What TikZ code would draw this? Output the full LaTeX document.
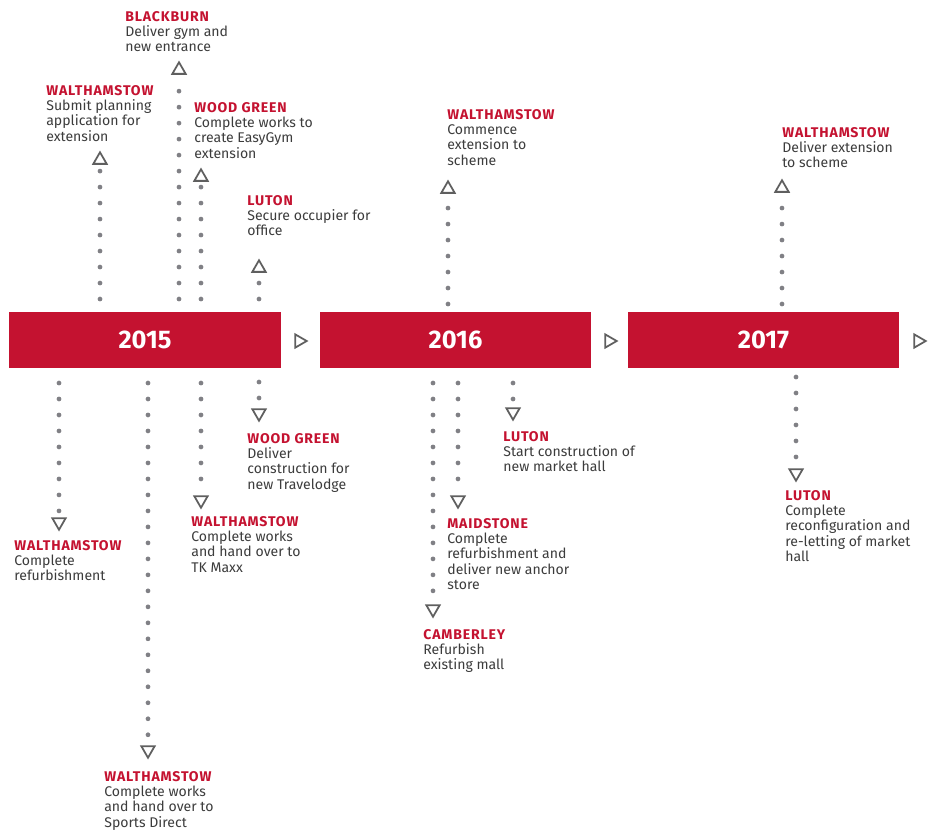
\documentclass[tikz,border=0pt]{standalone}
\usepackage{fontspec}
\setmainfont{Fira Sans}
\usetikzlibrary{shapes.geometric}
\definecolor{tlred}{RGB}{196,18,48}
\definecolor{tltext}{RGB}{60,60,60}
\definecolor{tldot}{RGB}{128,128,133}
\definecolor{tltri}{RGB}{95,95,95}
\newcommand{\place}[1]{\textcolor{tlred}{\bfseries\addfontfeature{LetterSpace=6}#1}}

\begin{document}
\begin{tikzpicture}[x=0.02cm,y=-0.02cm]
\tikzstyle{year}=[fill=tlred,text=white,inner sep=0pt,minimum width=5.44cm,minimum height=1.12cm,font=\fontsize{14.5}{16}\selectfont\bfseries]
\tikzstyle{tri}=[regular polygon,regular polygon sides=3,draw=tltri,line width=1pt,minimum size=8.8pt,inner sep=0pt]
\tikzstyle{up}=[tri]
\tikzstyle{down}=[tri,shape border rotate=180]
\tikzstyle{next}=[tri,shape border rotate=-90]
\tikzstyle{note}=[anchor=north west,inner sep=0pt,align=left,text=tltext,font=\fontsize{8}{8.7}\selectfont]
\tikzstyle{dots}=[draw=tldot,line width=2.7pt,line cap=round,dash pattern=on 0pt off 9.1pt,shorten >=3pt]

\useasboundingbox (0,0) rectangle (930,833);

% year bars
\node [year] (b15) at (145,340) {2015};
\node [year] (b16) at (455.5,340) {2016};
\node [year] (b17) at (763.5,340) {2017};
\node [next] (r15) at (299,341) {};
\node [next] (r16) at (609,341) {};
\node [next] (r17) at (918,341) {};

% events above the bars
\node [note] (n1) at (46,85) {\place{WALTHAMSTOW}\\Submit planning\\application for\\extension};
\node [up] (t1) at (100,160) {};
\coordinate (d1) at (100,299);

\node [note] (n2) at (125,11) {\place{BLACKBURN}\\Deliver gym and\\new entrance};
\node [up] (t2) at (179,70) {};
\coordinate (d2) at (179,299);

\node [note] (n3) at (194,102) {\place{WOOD GREEN}\\Complete works to\\create EasyGym\\extension};
\node [up] (t3) at (201,177) {};
\coordinate (d3) at (201,299);

\node [note] (n4) at (247,195) {\place{LUTON}\\Secure occupier for\\office};
\node [up] (t4) at (259,268) {};
\coordinate (d4) at (259,299);

\node [note] (n5) at (447,109) {\place{WALTHAMSTOW}\\Commence\\extension to\\scheme};
\node [up] (t5) at (448,189) {};
\coordinate (d5) at (448,304);

\node [note] (n6) at (782,127) {\place{WALTHAMSTOW}\\Deliver extension\\to scheme};
\node [up] (t6) at (782,188) {};
\coordinate (d6) at (782,304);

% events below the bars
\node [note] (n7) at (14,540) {\place{WALTHAMSTOW}\\Complete\\refurbishment};
\node [down] (t7) at (59,522) {};
\coordinate (d7) at (59,383);

\node [note] (n8) at (104,771) {\place{WALTHAMSTOW}\\Complete works\\and hand over to\\Sports Direct};
\node [down] (t8) at (148,750) {};
\coordinate (d8) at (148,383);

\node [note] (n9) at (191,516) {\place{WALTHAMSTOW}\\Complete works\\and hand over to\\TK Maxx};
\node [down] (t9) at (201,500) {};
\coordinate (d9) at (201,383);

\node [note] (n10) at (247,433) {\place{WOOD GREEN}\\Deliver\\construction for\\new Travelodge};
\node [down] (t10) at (259,413) {};
\coordinate (d10) at (259,382);

\node [note] (n11) at (423,629) {\place{CAMBERLEY}\\Refurbish\\existing mall};
\node [down] (t11) at (433,609) {};
\coordinate (d11) at (433,383);

\node [note] (n12) at (447,518) {\place{MAIDSTONE}\\Complete\\refurbishment and\\deliver new anchor\\store};
\node [down] (t12) at (458,500) {};
\coordinate (d12) at (458,383);

\node [note] (n13) at (503,431) {\place{LUTON}\\Start construction of\\new market hall};
\node [down] (t13) at (513,412) {};
\coordinate (d13) at (513,383);

\node [note] (n14) at (785,490) {\place{LUTON}\\Complete\\reconfiguration and\\re-letting of market\\hall};
\node [down] (t14) at (796,473) {};
\coordinate (d14) at (796,377);

% dotted leads
\foreach \i in {1,...,14}
  \draw [dots] (d\i) -- (t\i);
\end{tikzpicture}
\end{document}
